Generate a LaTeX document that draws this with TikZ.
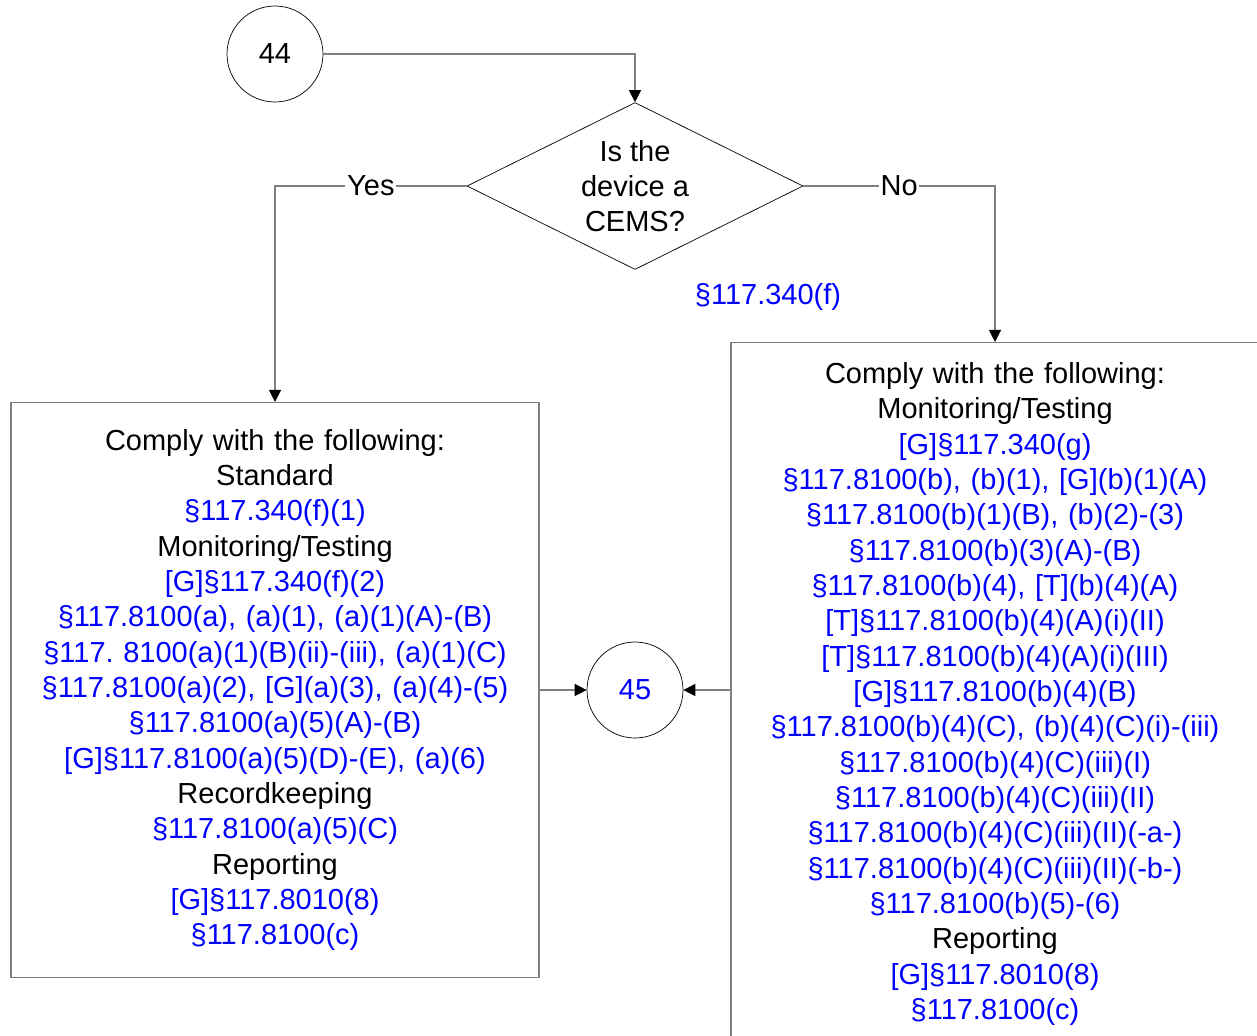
\documentclass[tikz,border=0pt]{standalone}
\usepackage{fontspec}
\setmainfont{Liberation Sans}
\usetikzlibrary{arrows.meta, shapes.geometric, positioning}
\definecolor{refblue}{RGB}{0,0,255}
\definecolor{linegray}{RGB}{128,128,128}
\newcommand{\rf}[1]{\textcolor{refblue}{#1}}
\frenchspacing

\begin{document}
\begin{tikzpicture}[x=0.02cm, y=-0.02cm,
    >={Triangle[length=0.24cm, width=0.24cm, color=black]},
    conn/.style={draw=linegray, line width=0.7pt, ->},
    onpage/.style={circle, draw, minimum size=1.92cm, inner sep=0pt},
    decision/.style={diamond, draw, aspect=2, minimum width=6.72cm, minimum height=3.34cm, inner sep=0pt, align=center},
    reqbox/.style={rectangle, draw=linegray, line width=0.7pt, minimum width=10.56cm, text width=10cm, align=center},
    lbl/.style={fill=white, inner sep=1pt}]
    \fontsize{16.5}{20.1}\selectfont
    \useasboundingbox (0,0) rectangle (1257,1035);
    \clip (0,0) rectangle (1257,1035);
    \node [onpage] (c44) at (275,54) {44};
    \node [decision] (d) at (635,186) {Is the\\device a\\CEMS?};
    \node [text=refblue] (cite) at (768,297) {§117.340(f)};
    \node [reqbox, minimum height=11.5cm] (lbox) at (275,690) {Comply with the following:\\Standard\\\rf{§117.340(f)(1)}\\Monitoring/Testing\\\rf{[G]§117.340(f)(2)}\\\rf{§117.8100(a), (a)(1), (a)(1)(A)-(B)}\\\rf{§117. 8100(a)(1)(B)(ii)-(iii), (a)(1)(C)}\\\rf{§117.8100(a)(2), [G](a)(3), (a)(4)-(5)}\\\rf{§117.8100(a)(5)(A)-(B)}\\\rf{[G]§117.8100(a)(5)(D)-(E), (a)(6)}\\Recordkeeping\\\rf{§117.8100(a)(5)(C)}\\Reporting\\\rf{[G]§117.8010(8)}\\\rf{§117.8100(c)}};
    \node [reqbox, minimum height=14.06cm] (rbox) at (995,694) {Comply with the following:\\Monitoring/Testing\\\rf{[G]§117.340(g)}\\\rf{§117.8100(b), (b)(1), [G](b)(1)(A)}\\\rf{§117.8100(b)(1)(B), (b)(2)-(3)}\\\rf{§117.8100(b)(3)(A)-(B)}\\\rf{§117.8100(b)(4), [T](b)(4)(A)}\\\rf{[T]§117.8100(b)(4)(A)(i)(II)}\\\rf{[T]§117.8100(b)(4)(A)(i)(III)}\\\rf{[G]§117.8100(b)(4)(B)}\\\rf{§117.8100(b)(4)(C), (b)(4)(C)(i)-(iii)}\\\rf{§117.8100(b)(4)(C)(iii)(I)}\\\rf{§117.8100(b)(4)(C)(iii)(II)}\\\rf{§117.8100(b)(4)(C)(iii)(II)(-a-)}\\\rf{§117.8100(b)(4)(C)(iii)(II)(-b-)}\\\rf{§117.8100(b)(5)-(6)}\\Reporting\\\rf{[G]§117.8010(8)}\\\rf{§117.8100(c)}};
    \node [onpage, text=refblue] (c45) at (635,690) {45};
    \draw [conn] (c44) -| (d);
    \draw [conn] (d) -| node[lbl, pos=0.25] {Yes} (lbox);
    \draw [conn] (d) -| node[lbl, pos=0.25] {No} (rbox);
    \draw [conn] (lbox) -- (c45);
    \draw [conn] (rbox.west |- c45) -- (c45);
\end{tikzpicture}
\end{document}
